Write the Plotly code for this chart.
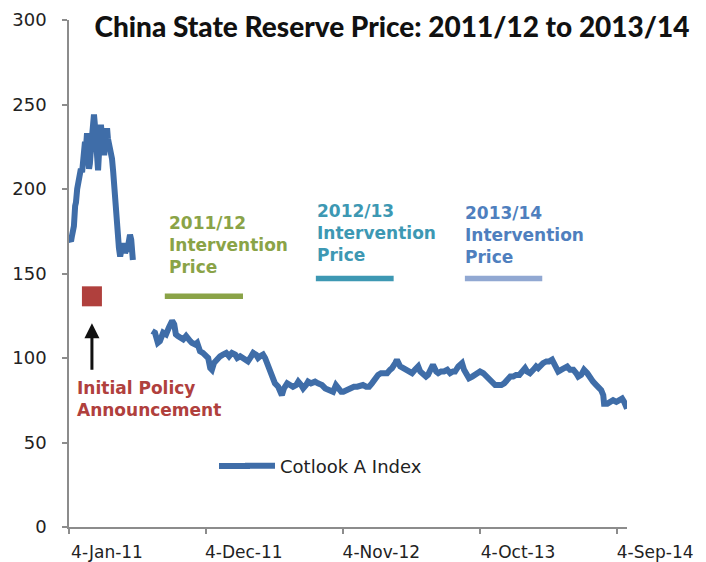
import plotly.graph_objects as go

# Cotlook A Index (US cents/lb), early-2011 run-up
dates_a = [
    "2011-01-06", "2011-01-09", "2011-01-11", "2011-01-14", "2011-01-16", "2011-01-19",
    "2011-01-21", "2011-01-24", "2011-01-26", "2011-01-28", "2011-01-31", "2011-02-02",
    "2011-02-05", "2011-02-07", "2011-02-10", "2011-02-12", "2011-02-15", "2011-02-17",
    "2011-02-19", "2011-02-22", "2011-02-24", "2011-02-27", "2011-03-01", "2011-03-04",
    "2011-03-06", "2011-03-09", "2011-03-11", "2011-03-13", "2011-03-16", "2011-03-18",
    "2011-03-21", "2011-03-23", "2011-03-26", "2011-03-28", "2011-03-31", "2011-04-02",
    "2011-04-04", "2011-04-07", "2011-04-09", "2011-04-12", "2011-04-14", "2011-04-17",
    "2011-04-19", "2011-04-22", "2011-04-24", "2011-04-26", "2011-04-29", "2011-05-01",
    "2011-05-04", "2011-05-06", "2011-05-09", "2011-05-11", "2011-05-14", "2011-05-16",
    "2011-05-18", "2011-05-21", "2011-05-23", "2011-05-26", "2011-05-28", "2011-05-31",
    "2011-06-02", "2011-06-05", "2011-06-07", "2011-06-09",
]
values_a = [
    170, 169, 172, 176, 178, 190,
    192, 200, 203, 205, 208, 212,
    210, 217, 218, 228, 226, 233,
    222, 212, 215, 225, 236, 240,
    244, 236, 225, 218, 211, 220,
    232, 238, 230, 224, 220, 228,
    234, 236, 230, 226, 228, 222,
    218, 210, 203, 196, 185, 175,
    168, 165, 160, 164, 167, 165,
    168, 162, 164, 163, 166, 170,
    173, 170, 163, 158,
]

# Cotlook A Index, from the 2011/12 season onward
dates_b = [
    "2011-07-26", "2011-08-02", "2011-08-09", "2011-08-14", "2011-08-22", "2011-08-29",
    "2011-09-05", "2011-09-13", "2011-09-18", "2011-09-22", "2011-09-27", "2011-10-02",
    "2011-10-10", "2011-10-17", "2011-10-22", "2011-10-27", "2011-10-31", "2011-11-08",
    "2011-11-13", "2011-11-20", "2011-11-27", "2011-12-05", "2011-12-10", "2011-12-15",
    "2011-12-19", "2011-12-24", "2012-01-01", "2012-01-08", "2012-01-15", "2012-01-23",
    "2012-01-30", "2012-02-06", "2012-02-14", "2012-02-19", "2012-02-26", "2012-03-04",
    "2012-03-12", "2012-03-16", "2012-03-24", "2012-03-29", "2012-04-05", "2012-04-10",
    "2012-04-15", "2012-04-22", "2012-04-27", "2012-05-04", "2012-05-09", "2012-05-14",
    "2012-05-21", "2012-05-29", "2012-06-03", "2012-06-07", "2012-06-12", "2012-06-20",
    "2012-06-27", "2012-07-04", "2012-07-12", "2012-07-17", "2012-07-24", "2012-07-29",
    "2012-08-05", "2012-08-10", "2012-08-17", "2012-08-27", "2012-09-03", "2012-09-13",
    "2012-09-21", "2012-09-28", "2012-10-05", "2012-10-10", "2012-10-17", "2012-10-22",
    "2012-10-30", "2012-11-04", "2012-11-11", "2012-11-16", "2012-11-23", "2012-11-30",
    "2012-12-08", "2012-12-15", "2012-12-22", "2012-12-30", "2013-01-06", "2013-01-13",
    "2013-01-21", "2013-01-28", "2013-02-04", "2013-02-12", "2013-02-19", "2013-02-26",
    "2013-03-03", "2013-03-11", "2013-03-15", "2013-03-23", "2013-03-30", "2013-04-06",
    "2013-04-14", "2013-04-21", "2013-04-28", "2013-05-06", "2013-05-11", "2013-05-18",
    "2013-05-25", "2013-05-30", "2013-06-07", "2013-06-11", "2013-06-19", "2013-06-24",
    "2013-07-01", "2013-07-08", "2013-07-16", "2013-07-23", "2013-07-30", "2013-08-04",
    "2013-08-12", "2013-08-16", "2013-08-21", "2013-08-26", "2013-08-31", "2013-09-07",
    "2013-09-15", "2013-09-22", "2013-09-29", "2013-10-04", "2013-10-12", "2013-10-19",
    "2013-10-26", "2013-11-03", "2013-11-10", "2013-11-17", "2013-11-25", "2013-12-02",
    "2013-12-09", "2013-12-17", "2013-12-24", "2013-12-31", "2014-01-08", "2014-01-15",
    "2014-01-22", "2014-01-27", "2014-02-03", "2014-02-11", "2014-02-18", "2014-02-23",
    "2014-03-02", "2014-03-07", "2014-03-15", "2014-03-22", "2014-03-29", "2014-04-06",
    "2014-04-13", "2014-04-20", "2014-04-28", "2014-05-05", "2014-05-12", "2014-05-20",
    "2014-05-27", "2014-06-01", "2014-06-08", "2014-06-15", "2014-06-23", "2014-06-30",
    "2014-07-07", "2014-07-15", "2014-07-22", "2014-07-27", "2014-08-01", "2014-08-03",
    "2014-08-11", "2014-08-18", "2014-08-25", "2014-09-02", "2014-09-09", "2014-09-16",
    "2014-09-21", "2014-09-28",
]
values_b = [
    116, 115, 109, 110, 115, 114,
    118, 122, 120, 114, 113, 112,
    111, 113, 112, 110, 109, 108,
    109, 104, 103, 101, 100, 94,
    93, 97, 100, 101, 102, 103,
    101, 103, 102, 100, 101, 100,
    99, 98, 101, 103, 102, 100,
    101, 102, 100, 96, 93, 90,
    85, 83, 81, 78, 82, 85,
    84, 83, 84, 86, 84, 82,
    84, 86, 85, 86, 85, 84,
    82, 81, 80, 80, 84, 82,
    80, 80, 81, 82, 82, 83,
    83, 84, 84, 83, 83, 85,
    88, 90, 91, 91, 91, 93,
    94, 97, 99, 95, 94, 93,
    92, 91, 93, 95, 92, 91,
    89, 90, 94, 96, 92, 91,
    92, 92, 93, 91, 92, 92,
    95, 96, 97, 93, 90, 88,
    89, 90, 91, 92, 91, 89,
    87, 85, 84, 84, 84, 85,
    87, 89, 89, 90, 90, 92,
    94, 92, 91, 93, 95, 94,
    96, 97, 98, 98, 99, 96,
    92, 93, 94, 95, 93, 93,
    91, 89, 90, 93, 91, 88,
    86, 84, 82, 81, 78, 73,
    73, 74, 75, 74, 75, 76,
    74, 70,
]

# Chinese state reserve (intervention) prices, US cents/lb
policy_date = "2011-03-01"
policy_price = 136.5
price_2011_12 = 136.5
price_2012_13 = 147
price_2013_14 = 147
seg_2011_12 = ["2011-08-26", "2012-03-04"]
seg_2012_13 = ["2012-08-29", "2013-03-07"]
seg_2013_14 = ["2013-08-28", "2014-03-05"]

x_ticks = ["2011-01-04", "2011-12-04", "2012-11-04", "2013-10-04", "2014-09-04"]
x_tick_text = ["4-Jan-11", "4-Dec-11", "4-Nov-12", "4-Oct-13", "4-Sep-14"]
y_ticks = [0, 50, 100, 150, 200, 250, 300]

BLUE = "#3F6DA8"
GREEN = "#8AA347"
TEAL = "#3D98B3"
LIGHT_BLUE = "#91A8D2"
LABEL_BLUE = "#4F7FBE"
RED = "#B0403D"
AXIS = "#8C8C8C"
FONT = "DejaVu Sans"

W, H = 706, 562
L, R, T, B = 69, 79, 20, 35
PW, PH = W - L - R, H - T - B


def px(x):
    return (x - L) / PW


def py(y):
    return (H - B - y) / PH


fig = go.Figure()

fig.add_trace(go.Scatter(
    x=dates_a + ["2011-07-01"] + dates_b,
    y=values_a + [None] + values_b,
    mode="lines", name="Cotlook A Index",
    line=dict(color=BLUE, width=6),
    connectgaps=False,
))

for seg, price, color in [(seg_2011_12, price_2011_12, GREEN),
                          (seg_2012_13, price_2012_13, TEAL),
                          (seg_2013_14, price_2013_14, LIGHT_BLUE)]:
    fig.add_trace(go.Scatter(
        x=seg, y=[price, price], mode="lines", showlegend=False,
        line=dict(color=color, width=5.5), hoverinfo="skip",
    ))

fig.add_trace(go.Scatter(
    x=[policy_date], y=[policy_price], mode="markers", showlegend=False,
    marker=dict(symbol="square", size=20, color=RED, line=dict(width=0)),
))

annotations = [
    dict(x=px(167), y=py(245), xref="paper", yref="paper", xanchor="left", yanchor="middle",
         align="left", showarrow=False, text="<b>2011/12<br>Intervention<br>Price</b>",
         font=dict(family=FONT, size=17, color=GREEN)),
    dict(x=px(315), y=py(233), xref="paper", yref="paper", xanchor="left", yanchor="middle",
         align="left", showarrow=False, text="<b>2012/13<br>Intervention<br>Price</b>",
         font=dict(family=FONT, size=17, color=TEAL)),
    dict(x=px(463), y=py(235), xref="paper", yref="paper", xanchor="left", yanchor="middle",
         align="left", showarrow=False, text="<b>2013/14<br>Intervention<br>Price</b>",
         font=dict(family=FONT, size=17, color=LABEL_BLUE)),
    dict(x=px(75), y=py(399), xref="paper", yref="paper", xanchor="left", yanchor="middle",
         align="left", showarrow=False, text="<b>Initial Policy<br>Announcement</b>",
         font=dict(family=FONT, size=17, color=RED)),
    dict(x=policy_date, y=120.5, xref="x", yref="y", ax=0, ay=48, text="",
         showarrow=True, arrowhead=2, arrowsize=1, arrowwidth=3, arrowcolor="#111111"),
]

# lengthen the legend's line sample to the left
legend_sample = dict(type="line", xref="paper", yref="paper",
                     x0=px(219), x1=px(250), y0=py(466), y1=py(466),
                     line=dict(color=BLUE, width=6))

fig.update_layout(
    width=W, height=H,
    margin=dict(l=L, r=R, t=T, b=B, autoexpand=False),
    paper_bgcolor="white", plot_bgcolor="white",
    title=dict(
        text="China State Reserve Price: 2011/12 to 2013/14",
        x=392 / W, xanchor="center", xref="container",
        y=1 - 27 / H, yanchor="middle", yref="container", automargin=False,
        font=dict(family="Lato, Roboto, sans-serif", weight=900,
                  size=28, color="#111111"),
    ),
    showlegend=True,
    legend=dict(
        x=px(240), y=py(466), xanchor="left", yanchor="middle",
        bgcolor="rgba(0,0,0,0)", font=dict(family=FONT, size=18, color="#222222"),
    ),
    shapes=[legend_sample],
    annotations=annotations,
    xaxis=dict(
        type="date", range=["2011-01-04", "2014-09-28"], automargin=False,
        tickvals=x_ticks, ticktext=x_tick_text,
        showline=True, linecolor=AXIS, linewidth=1.5,
        ticks="outside", ticklen=5, tickcolor=AXIS, tickwidth=1.5,
        showgrid=False, zeroline=False,
        ticklabelshift=38, ticklabelstandoff=4,
        tickfont=dict(family=FONT, size=17, color="#222222"),
    ),
    yaxis=dict(
        range=[0, 300], tickvals=y_ticks, automargin=False,
        showline=True, linecolor=AXIS, linewidth=1.5,
        ticks="outside", ticklen=5, tickcolor=AXIS, tickwidth=1.5,
        showgrid=False, zeroline=False,
        ticklabelstandoff=12,
        tickfont=dict(family=FONT, size=18, color="#222222"),
    ),
)

fig.write_html("out.html")
